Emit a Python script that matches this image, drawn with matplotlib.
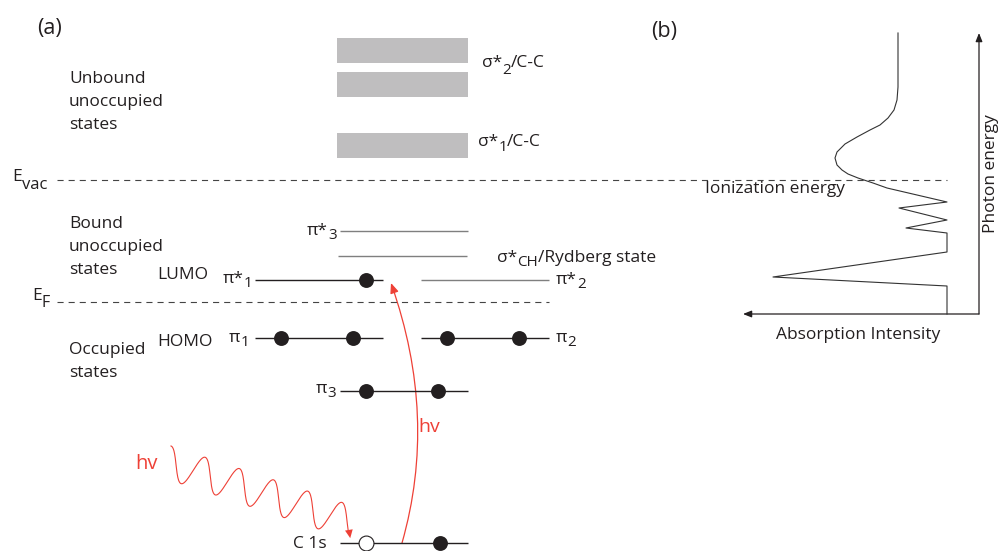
import numpy as np
import matplotlib.pyplot as plt
from matplotlib.path import Path
from matplotlib.patches import FancyArrowPatch, Rectangle

plt.rcParams['font.family'] = ['Open Sans', 'DejaVu Sans']

INK = '#231f20'
GRAY_LINE = '#7f7f7f'
DASH = '#444444'
RED = '#ee4036'
BAND = '#bfbebf'

# ---------------- (a) energy level diagram (pixel-like units, y down) ----------------
# unbound sigma* bands: top / bottom of each band
band_top = [38, 72, 133]
band_bot = [63, 97, 158]
band_x = (337, 468)

e_vac = 180
e_fermi = 302

# discrete levels
level_names = ['pi*3', 'sigma*CH', 'pi*1', 'pi*2', 'pi1', 'pi2', 'pi3', 'C1s']
level_y = [231, 256, 280, 280, 338, 338, 391, 543]
level_x0 = [340, 338, 255, 421, 255, 421, 340, 340]
level_x1 = [468, 467, 383, 549, 383, 549, 468, 468]
level_gray = ['pi*3', 'sigma*CH', 'pi*2']

# electrons (filled) and the core hole (open)
electron_x = [366, 281, 353, 447, 519, 366, 438, 440]
electron_y = [280, 338, 338, 338, 338, 391, 391, 543]
hole_x = [366]
hole_y = [543]

# ---------------- (b) absorption spectrum ----------------
spec_intensity = [947, 947, 773, 947, 947, 906, 947, 899, 947, 887, 873, 858, 848,
                  842, 837, 835, 837, 845, 857, 870, 880, 888, 894, 897, 898, 898]
spec_energy = [314, 286, 277, 252, 233, 228, 220, 208, 202, 188, 183, 178, 174,
               170, 165, 158, 152, 144, 137, 130, 125, 118, 110, 100, 87, 33]
axis_origin = (979, 314)
axis_top = 33
axis_left = 743

fig = plt.figure(figsize=(10, 5.51), dpi=100)
ax = fig.add_axes([0, 0, 1, 1])
ax.set_xlim(0, 1000)
ax.set_ylim(551, 0)
ax.axis('off')


def sub_label(x, y, base, sub, tail='', size=12.5, sub_size=11, drop=4, color=INK):
    t = ax.text(x, y, base, fontsize=size, va='baseline', ha='left', color=color)
    s = ax.annotate(sub, xy=(1, y + drop), xycoords=(t, 'data'), fontsize=sub_size,
                    va='baseline', ha='left', color=color)
    if tail:
        ax.annotate(tail, xy=(1, y), xycoords=(s, 'data'), fontsize=size,
                    va='baseline', ha='left', color=color)


def lines_of_text(x, baselines, words, size=12.5):
    for b, w in zip(baselines, words):
        ax.text(x, b, w, fontsize=size, va='baseline', ha='left', color=INK)


# bands
for top, bot in zip(band_top, band_bot):
    ax.add_patch(Rectangle((band_x[0], top), band_x[1] - band_x[0], bot - top,
                           facecolor=BAND, edgecolor='none'))

# vacuum level and Fermi level
ax.plot([57, 947], [e_vac, e_vac], color=DASH, lw=0.8, ls=(0, (5.5, 4.5)))
ax.plot([57, 549], [e_fermi, e_fermi], color=DASH, lw=0.8, ls=(0, (5.5, 4.5)))

# levels
for name, y, x0, x1 in zip(level_names, level_y, level_x0, level_x1):
    c = GRAY_LINE if name in level_gray else INK
    ax.plot([x0, x1], [y, y], color=c, lw=1.0, solid_capstyle='butt')

ax.scatter(electron_x, electron_y, s=115, color=INK, zorder=3, linewidths=0)
ax.scatter(hole_x, hole_y, s=115, facecolor='white', edgecolor=INK, linewidths=0.8, zorder=3)

# text labels
ax.text(37, 34, '(a)', fontsize=15.5, va='baseline', color=INK)
ax.text(651, 37, '(b)', fontsize=15.5, va='baseline', color=INK)
lines_of_text(69, [83, 106, 129], ['Unbound', 'unoccupied', 'states'])
lines_of_text(69, [228, 251, 274], ['Bound', 'unoccupied', 'states'])
lines_of_text(69, [354, 377], ['Occupied', 'states'])
ax.text(157, 279, 'LUMO', fontsize=12.5, va='baseline', color=INK)
ax.text(157, 346, 'HOMO', fontsize=12.5, va='baseline', color=INK)

sub_label(12, 181, 'E', 'vac', size=12.5, sub_size=12, drop=8)
sub_label(32, 300, 'E', 'F', size=12.5, sub_size=11.5, drop=7)
sub_label(482, 67, 'σ*', '2', '/C-C', drop=7)
sub_label(478, 146, 'σ*', '1', '/C-C', drop=5)
sub_label(497, 262, 'σ*', 'CH', '/Rydberg state', drop=4)
sub_label(307, 235, 'π*', '3')
sub_label(223, 283, 'π*', '1')
sub_label(556, 284, 'π*', '2')
sub_label(229, 342, 'π', '1')
sub_label(556, 342, 'π', '2')
sub_label(316, 393, 'π', '3')
ax.text(327, 548, 'C 1s', fontsize=12.5, va='baseline', ha='right', color=INK)

# incoming photon: wavy line with arrow
phi = np.linspace(0, 2 * np.pi * 5 + 2.75, 600)
period, amp, skew, slope = 34.2, 16, 3.5, 0.33
xb = 171 - skew + phi / (2 * np.pi) * period
yb = 462 + slope * (xb - 171 + skew)
wx = xb + skew * np.cos(phi)
wy = yb - amp * np.cos(phi)
ax.plot(wx[:-8], wy[:-8], color=RED, lw=0.8)
ax.add_patch(FancyArrowPatch((wx[-30], wy[-30]), (wx[-1], wy[-1]),
                             arrowstyle='-|>,head_length=0.6,head_width=0.28',
                             mutation_scale=10, color=RED, lw=0, shrinkA=0, shrinkB=0))
ax.text(135, 469, 'hv', fontsize=14.5, va='baseline', color=RED)

# core electron excitation: curved arrow C 1s -> LUMO
exc = Path([(402, 543), (438, 417), (391, 283)], [Path.MOVETO, Path.CURVE3, Path.CURVE3])
ax.add_patch(FancyArrowPatch(path=exc, arrowstyle='-|>,head_length=0.6,head_width=0.25',
                             mutation_scale=10, color=RED, lw=0.9))
ax.text(418, 432, 'hv', fontsize=14, va='baseline', color=RED)

# ---------------- (b) spectrum ----------------
ax.plot(spec_intensity, spec_energy, color='#333333', lw=0.8)
arrow_kw = dict(arrowstyle='-|>,head_length=0.5,head_width=0.2', mutation_scale=10,
                color=INK, lw=0.9, shrinkA=0, shrinkB=0)
ax.add_patch(FancyArrowPatch(axis_origin, (axis_origin[0], axis_top), **arrow_kw))
ax.add_patch(FancyArrowPatch(axis_origin, (axis_left, axis_origin[1]), **arrow_kw))
ax.text(705, 193, 'Ionization energy', fontsize=12.5, va='baseline', color=INK)
ax.text(858, 339, 'Absorption Intensity', fontsize=12.5, va='baseline', ha='center', color=INK)
ax.text(991, 174, 'Photon energy', fontsize=12.5, rotation=90, va='center', ha='center', color=INK)

fig.savefig('out.png', dpi=100)
